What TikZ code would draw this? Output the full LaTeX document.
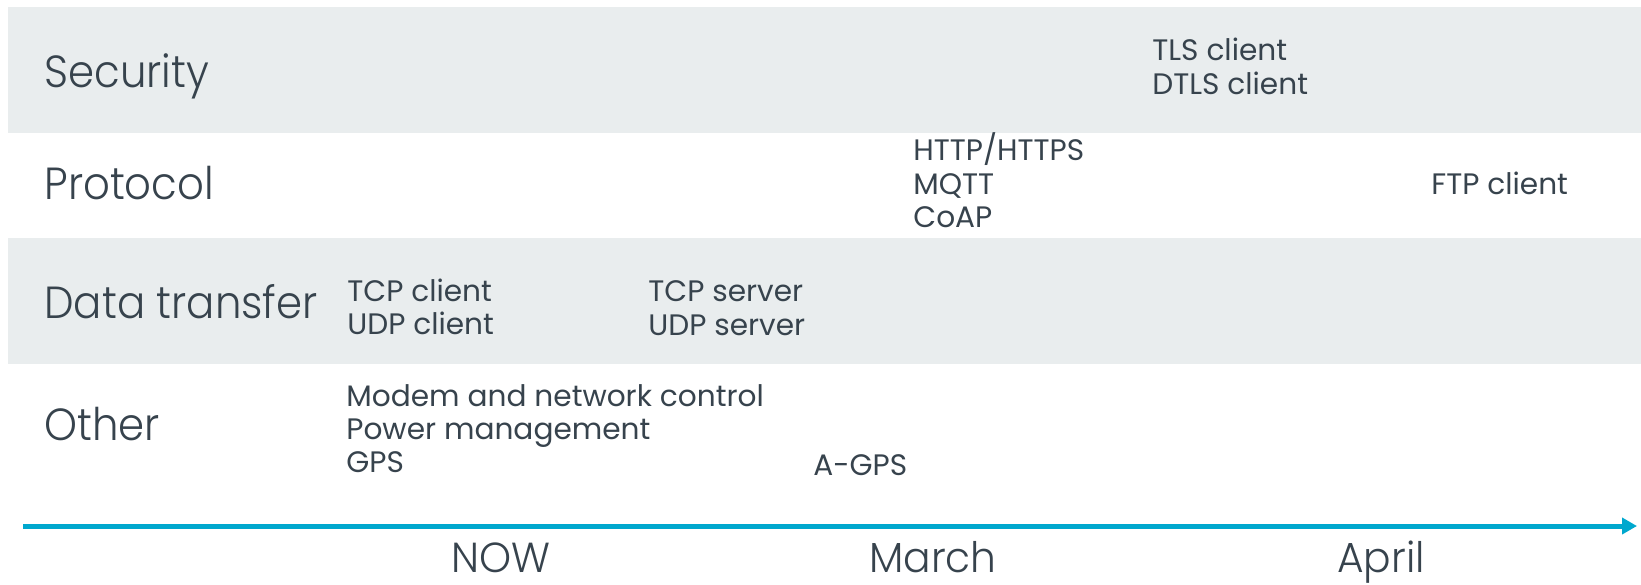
\documentclass[tikz,border=0pt]{standalone}
\usepackage{fontspec}
\setmainfont{Poppins}
\newfontfamily\lightfont{Poppins Light}[FakeStretch=0.93]
\newfontfamily\monthfont{Poppins Light}[FakeStretch=0.97]
\usetikzlibrary{arrows.meta}
\definecolor{band}{HTML}{E9EDEE}
\definecolor{ink}{HTML}{37434D}
\definecolor{axis}{HTML}{00A8CE}

\begin{document}
\begin{tikzpicture}[x=0.5pt,y=-0.5pt,
  item/.style={anchor=base west, inner sep=0pt, text=ink, font=\fontsize{14.8}{16}\selectfont},
  header/.style={anchor=base west, inner sep=0pt, text=ink, font=\lightfont\fontsize{22.5}{26}\selectfont},
  month/.style={anchor=base, inner sep=0pt, text=ink, font=\monthfont\fontsize{21}{24}\selectfont},
  stripe/.style={fill=band, draw=none},
  timeline/.style={draw=axis, line width=2.5pt, -{Triangle[length=7.5pt,width=8pt]}}]
\useasboundingbox (0,0) rectangle (1641,584);

% shaded rows
\fill[stripe] (8,7) rectangle (1641,133);
\fill[stripe] (8,238) rectangle (1641,364);

% row headings
\node[header] (hsec)   at (44,87)  {Security};
\node[header] (hproto) at (44,199) {Protocol};
\node[header] (hdata)  at (44,318) {Data transfer};
\node[header] (hother) at (44,440) {Other};

% security
\node[item] (tls)  at (1152,60) {TLS client};
\node[item] (dtls) at (1152,94) {DTLS client};

% protocol
\node[item] (http) at (913,160) {HTTP/HTTPS};
\node[item] (mqtt) at (913,194) {MQTT};
\node[item] (coap) at (913,227) {CoAP};
\node[item] (ftp)  at (1431,194) {FTP client};

% data transfer
\node[item] (tcpc) at (347,301) {TCP client};
\node[item] (udpc) at (347,334) {UDP client};
\node[item] (tcps) at (648,301) {TCP server};
\node[item] (udps) at (648,335) {UDP server};

% other
\node[item] (modem) at (346,406) {Modem and network control};
\node[item] (power) at (346,439) {Power management};
\node[item] (gps)   at (346,472) {GPS};
\node[item] (agps)  at (813,475) {A-GPS};

% time axis
\coordinate (tstart) at (23,526);
\coordinate (tend)   at (1637,526);
\draw[timeline] (tstart) -- (tend);

\node[month] (now)   at (501,572)  {NOW};
\node[month] (march) at (933,572)  {March};
\node[month] (april) at (1381,572) {April};
\end{tikzpicture}
\end{document}
